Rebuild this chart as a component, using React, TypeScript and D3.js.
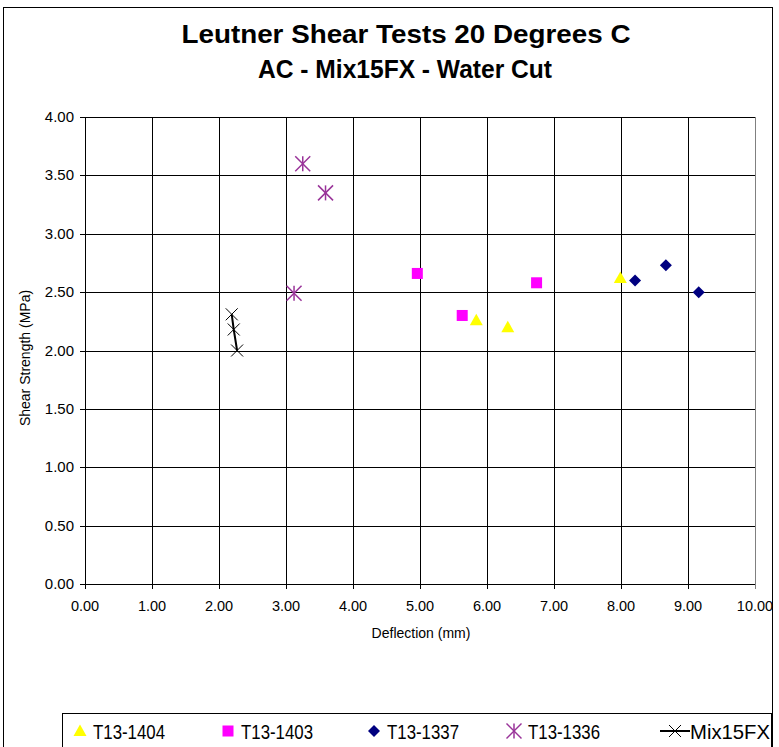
import React from "react";
import * as d3 from "d3";

const xTicks = [0, 1, 2, 3, 4, 5, 6, 7, 8, 9, 10];
const yTicks = [0, 0.5, 1, 1.5, 2, 2.5, 3, 3.5, 4];

const t1404X = [5.84, 6.31, 7.99];
const t1404Y = [2.26, 2.2, 2.62];
const t1403X = [4.96, 5.63, 6.74];
const t1403Y = [2.66, 2.3, 2.58];
const t1337X = [8.21, 8.67, 9.16];
const t1337Y = [2.6, 2.73, 2.5];
const t1336X = [3.25, 3.59, 3.12];
const t1336Y = [3.6, 3.35, 2.49];
const mixX = [2.19, 2.22, 2.27];
const mixY = [2.31, 2.18, 2.0];

const seriesNames = ["T13-1404", "T13-1403", "T13-1337", "T13-1336", "Mix15FX"];

const W = 779;
const H = 747;
const L = 85, R = 755, T = 117, B = 584;
const FONT = "Liberation Sans, Arial, sans-serif";

function Marker({ kind, x, y }: { kind: string; x: number; y: number }) {
  if (kind === "tri") {
    return <path d={`M${x},${y - 6.5}L${x + 6.5},${y + 5}L${x - 6.5},${y + 5}Z`} fill="#ffff00" />;
  }
  if (kind === "sq") {
    return <rect x={x - 5.5} y={y - 5.5} width={11} height={11} fill="#ff00ff" />;
  }
  if (kind === "dia") {
    return <path d={`M${x},${y - 6}L${x + 6},${y}L${x},${y + 6}L${x - 6},${y}Z`} fill="#000080" />;
  }
  if (kind === "ast") {
    const s = 7.5;
    return (
      <g stroke="#993399" strokeWidth={1.5}>
        <line x1={x - s} y1={y - s} x2={x + s} y2={y + s} />
        <line x1={x - s} y1={y + s} x2={x + s} y2={y - s} />
        <line x1={x} y1={y - s} x2={x} y2={y + s} />
      </g>
    );
  }
  const s = 6;
  return (
    <g stroke="#000" strokeWidth={1}>
      <line x1={x - s} y1={y - s} x2={x + s} y2={y + s} />
      <line x1={x - s} y1={y + s} x2={x + s} y2={y - s} />
    </g>
  );
}

export default function App() {
  const x = d3.scaleLinear().domain([0, 10]).range([L, R]);
  const y = d3.scaleLinear().domain([0, 4]).range([B, T]);
  const fmt = d3.format(".2f");

  const series = [
    { kind: "tri", xs: t1404X, ys: t1404Y },
    { kind: "sq", xs: t1403X, ys: t1403Y },
    { kind: "dia", xs: t1337X, ys: t1337Y },
    { kind: "ast", xs: t1336X, ys: t1336Y },
    { kind: "x", xs: mixX, ys: mixY },
  ];

  const line = d3
    .line<number>()
    .x((_, i) => x(mixX[i]))
    .y((d) => y(d));

  const legendX = [80, 228, 374, 514, 675];
  const legendTextX = [93, 241, 387, 528, 690];
  const legendLen = [72, 72, 72, 72, 80];
  const legendY = 731;
  const kinds = ["tri", "sq", "dia", "ast", "x"];

  return (
    <svg
      width={W}
      height={H}
      style={{ position: "absolute", left: 0, top: 0, background: "#fff" }}
      fontFamily={FONT}
    >
      <rect x={3.5} y={7.5} width={769} height={760} fill="#fff" stroke="#000" strokeWidth={1} />
      <text x={406} y={43} textAnchor="middle" fontSize={26} fontWeight="bold" textLength={449} lengthAdjust="spacingAndGlyphs">
        Leutner Shear Tests 20 Degrees C
      </text>
      <text x={405} y={78} textAnchor="middle" fontSize={26} fontWeight="bold" textLength={294} lengthAdjust="spacingAndGlyphs">
        AC - Mix15FX - Water Cut
      </text>

      {/* grid */}
      {yTicks.map((t) => (
        <g key={"y" + t}>
          <line x1={L - 5} x2={R} y1={Math.round(y(t)) + 0.5} y2={Math.round(y(t)) + 0.5} stroke="#000" />
          <text x={74} y={y(t) + 5} textAnchor="end" fontSize={15}>
            {fmt(t)}
          </text>
        </g>
      ))}
      {xTicks.map((t) => (
        <g key={"x" + t}>
          <line x1={Math.round(x(t)) + 0.5} x2={Math.round(x(t)) + 0.5} y1={T} y2={B + 5} stroke={t === 10 ? "#808080" : "#000"} />
          <text x={x(t)} y={611} textAnchor="middle" fontSize={14.5}>
            {fmt(t)}
          </text>
        </g>
      ))}

      <text x={421} y={638} textAnchor="middle" fontSize={14}>
        Deflection (mm)
      </text>
      <text transform="translate(30,358) rotate(-90)" textAnchor="middle" fontSize={14}>
        Shear Strength (MPa)
      </text>

      {/* Mix line */}
      <path d={line(mixY) || ""} fill="none" stroke="#000" strokeWidth={2} />

      {series.map((s, si) =>
        s.xs.map((v, i) => <Marker key={si + "-" + i} kind={s.kind} x={x(v)} y={y(s.ys[i])} />)
      )}

      {/* legend */}
      <rect x={62.5} y={713.5} width={709} height={50} fill="#fff" stroke="#000" />
      {seriesNames.map((n, i) => (
        <g key={n}>
          {kinds[i] === "x" && (
            <line x1={660} x2={690} y1={legendY} y2={legendY} stroke="#000" strokeWidth={2} />
          )}
          <Marker kind={kinds[i]} x={legendX[i]} y={legendY} />
          <text x={legendTextX[i]} y={legendY + 7.5} fontSize={21} textLength={legendLen[i]} lengthAdjust="spacingAndGlyphs">
            {n}
          </text>
        </g>
      ))}
    </svg>
  );
}
